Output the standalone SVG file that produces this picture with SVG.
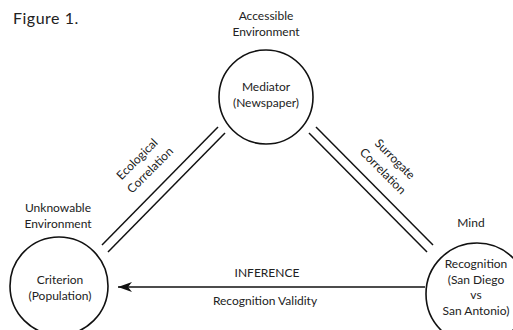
<svg xmlns="http://www.w3.org/2000/svg" width="513" height="330" viewBox="0 0 513 330">
<style>
text{font-family:Lato,"Liberation Sans",sans-serif;font-size:12px;fill:#222;text-anchor:middle}
.c{fill:none;stroke:#111;stroke-width:1.6}
.l{stroke:#111;stroke-width:1.5;fill:none}
</style>
<defs>
<marker id="ah" markerWidth="16" markerHeight="12" refX="15" refY="6" orient="auto" markerUnits="userSpaceOnUse">
<path d="M15,6 L1,1 L5,6 L1,11 Z" fill="#111"/>
</marker>
</defs>
<rect width="513" height="330" fill="#fff"/>
<text x="13" y="24" style="text-anchor:start;font-size:16px;letter-spacing:0.5px">Figure 1.</text>
<g id="mediator">
<text x="266" y="20">Accessible</text>
<text x="266" y="36">Environment</text>
<circle class="c" cx="266" cy="97" r="47"/>
<text x="266" y="91">Mediator</text>
<text x="266" y="107">(Newspaper)</text>
</g>
<g id="criterion">
<text x="58" y="212">Unknowable</text>
<text x="58" y="228">Environment</text>
<circle class="c" cx="59" cy="286" r="49"/>
<text x="60" y="284">Criterion</text>
<text x="60" y="300">(Population)</text>
</g>
<g id="recognition">
<text x="471" y="227">Mind</text>
<circle class="c" cx="477" cy="294" r="51"/>
<text x="476" y="268">Recognition</text>
<text x="476" y="284">(San Diego</text>
<text x="476" y="299">vs</text>
<text x="476" y="315">San Antonio)</text>
</g>
<g id="connectors">
<line class="l" x1="102" y1="245" x2="218" y2="127"/>
<line class="l" x1="108" y1="252" x2="225" y2="133"/>
<line class="l" x1="316" y1="127" x2="433" y2="245"/>
<line class="l" x1="309" y1="133" x2="427" y2="252"/>
<line class="l" x1="425" y1="287" x2="118" y2="287" marker-end="url(#ah)"/>
<text transform="translate(140,162) rotate(-45)">Ecological</text>
<text transform="translate(153,173) rotate(-45)">Correlation</text>
<text transform="translate(392,162) rotate(45)">Surrogate</text>
<text transform="translate(380,174) rotate(45)">Correlation</text>
<text x="267" y="277">INFERENCE</text>
<text x="265" y="305">Recognition Validity</text>
</g>
</svg>
